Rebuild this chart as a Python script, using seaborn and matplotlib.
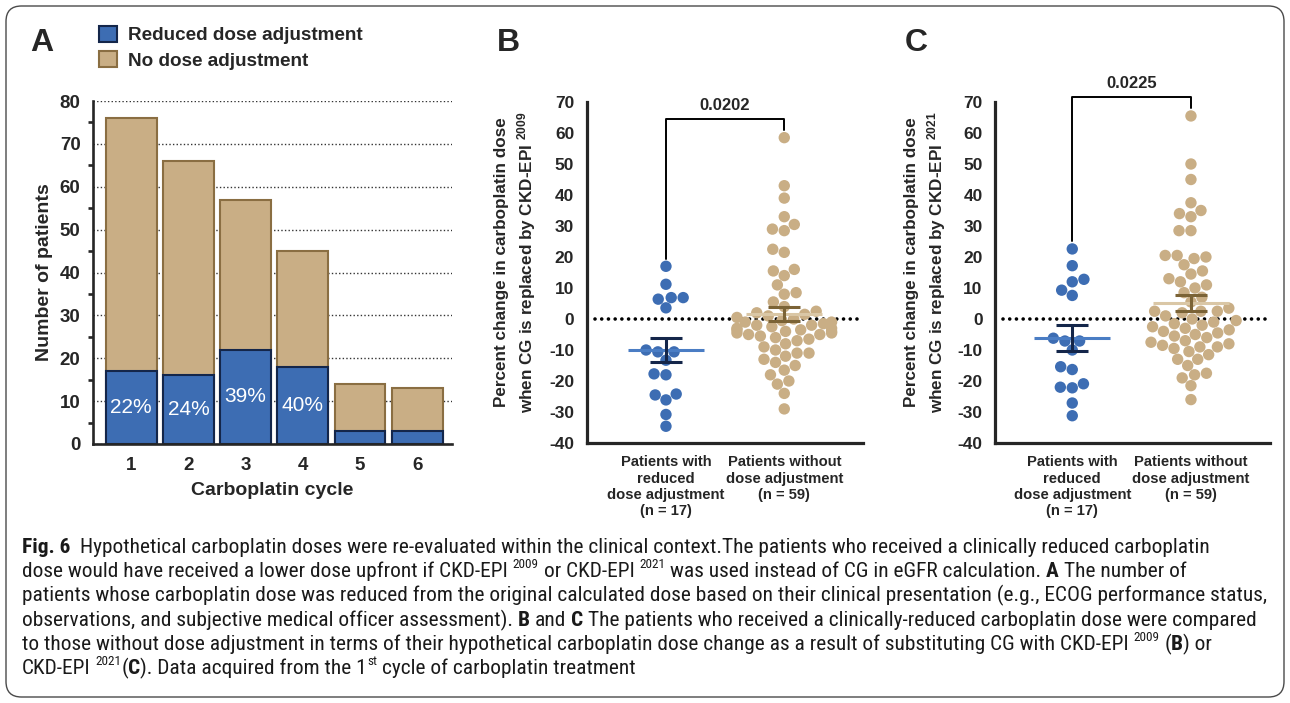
import numpy as np
import pandas as pd
import matplotlib
matplotlib.use("Agg")
import matplotlib.pyplot as plt
from matplotlib import font_manager
from matplotlib.patches import Patch, FancyBboxPatch
from matplotlib.ticker import MultipleLocator
import seaborn as sns

# ---------------- data ----------------
cycles = ["1", "2", "3", "4", "5", "6"]
total_patients = [76, 66, 57, 45, 14, 13]
reduced_patients = [17, 16, 22, 18, 3, 3]
pct_labels = ["22%", "24%", "39%", "40%", "", ""]
legend_labels = ["Reduced dose adjustment", "No dose adjustment"]

groups = ["Patients with\nreduced\ndose adjustment\n(n = 17)",
          "Patients without\ndose adjustment\n(n = 59)"]

b_reduced = [17.0, 11.2, 6.9, 6.9, 6.4, 3.6, -10.6, -10.0, -10.6, -13.3,
             -17.7, -18.0, -24.5, -24.2, -26.1, -30.8, -34.6]
b_no_adj = [58.5, 43, 39, 33, 30.5, 29, 28.5, 22.5, 21.5, 16, 15.5, 14, 11,
            8.5, 8, 5.5, 4, 2.5,
            2, 1.5, 1, 0.5, 0, -0.5, -1, -1, -1.5, -2, -2, -2.5, -3, -3,
            -3.5, -3.5, -4, -4, -4.5, -4.5, -5, -5, -5.5, -6, -6.5, -7, -8,
            -9, -10, -11, -11, -12, -13, -14, -15, -16.5, -18, -20, -21,
            -24, -29]
c_reduced = [22.6, 17.2, 12.8, 12.0, 7.6, 9.3, -7.1, -6.2, -7.1, -10.0,
             -15.4, -16.3, -22.0, -20.9, -22.2, -27.1, -31.2]
c_no_adj = [65.5, 50, 45, 37.5, 35, 34, 33, 28.5, 28.5, 20.5, 20.5, 20,
            19.5, 17.5, 15.5, 14.5, 13, 12, 11, 10, 8.5, 7, 5.5, 3.5, 2.5, 2,
            2.5, 2.5, 1, 0, -0.5, -1, -1.5, -2, -2.5, -3, -3.5, -4, -4.5,
            -5, -5.5, -6, -7, -7.5, -8, -8.5, -9, -9, -9.5, -10.5, -11.5,
            -13, -13, -15, -17.5, -18, -19, -21.5, -26]
p_values = ["0.0202", "0.0225"]
ylabel_years = ["2009", "2021"]

# caption: (text, style) with style n = normal, b = bold, s = superscript
caption_segments = [
    [("Fig. 6", "b"), ("  Hypothetical carboplatin doses were re-evaluated within the clinical context.The patients who received a clinically reduced carboplatin", "n")],
    [("dose would have received a lower dose upfront if CKD-EPI ", "n"), ("2009", "s"), (" or CKD-EPI ", "n"), ("2021", "s"),
     (" was used instead of CG in eGFR calculation. ", "n"), ("A", "b"), (" The number of", "n")],
    [("patients whose carboplatin dose was reduced from the original calculated dose based on their clinical presentation (e.g., ECOG performance status,", "n")],
    [("observations, and subjective medical officer assessment). ", "n"), ("B", "b"), (" and ", "n"), ("C", "b"),
     (" The patients who received a clinically-reduced carboplatin dose were compared", "n")],
    [("to those without dose adjustment in terms of their hypothetical carboplatin dose change as a result of substituting CG with CKD-EPI ", "n"),
     ("2009", "s"), (" (", "n"), ("B", "b"), (") or", "n")],
    [("CKD-EPI ", "n"), ("2021", "s"), ("(", "n"), ("C", "b"), ("). Data acquired from the 1", "n"), ("st", "s"),
     (" cycle of carboplatin treatment", "n")],
]

# ---------------- style ----------------
W, H = 1290, 703
BLUE = "#3d6db3"
BLUE_EDGE = "#14264a"
BLUE_MEAN = "#4a7dc4"
TAN = "#c9ae85"
TAN_EDGE = "#8a6e42"
TAN_MEAN = "#dac7a6"
TAN_SEM = "#7b6336"

sns.set_style("white")
names = {f.name for f in font_manager.fontManager.ttflist}
main_font = "Liberation Sans" if "Liberation Sans" in names else "DejaVu Sans"
narrow_font = next((n for n in ["Liberation Sans Narrow", "Roboto Condensed",
                                 "Open Sans Condensed", "DejaVu Sans"] if n in names),
                   "DejaVu Sans")
plt.rcParams.update({
    "font.family": [main_font, "DejaVu Sans"],
    "font.weight": "bold",
    "axes.unicode_minus": False,
    "mathtext.fontset": "custom",
    "mathtext.rm": main_font,
    "mathtext.it": f"{main_font}:italic",
    "mathtext.bf": f"{main_font}:bold",
})

fig = plt.figure(figsize=(W / 100, H / 100), dpi=100)


def axes_px(l, t, r, b):
    return fig.add_axes([l / W, 1 - b / H, (r - l) / W, (b - t) / H])


# ---------------- Panel A ----------------
axA = axes_px(93, 101, 452, 444)
sns.barplot(x=cycles, y=total_patients, color=TAN, edgecolor=TAN_EDGE,
            linewidth=1.5, width=0.89, saturation=1, errorbar=None, ax=axA)
sns.barplot(x=cycles, y=reduced_patients, color=BLUE, edgecolor=BLUE_EDGE,
            linewidth=1.5, width=0.89, saturation=1, errorbar=None, ax=axA)
for i, (lab, r) in enumerate(zip(pct_labels, reduced_patients)):
    if lab:
        axA.text(i, r / 2, lab, ha="center", va="center", color="white",
                 fontsize=15, fontweight="normal", zorder=5)
axA.set_ylim(0, 80)
axA.set_xlim(-0.67, 5.61)
axA.yaxis.set_major_locator(MultipleLocator(10))
axA.yaxis.set_minor_locator(MultipleLocator(5))
axA.set_axisbelow(True)
axA.yaxis.grid(True, which="major", linestyle=(0, (1, 1.6)), color="#333333", lw=1.0)
axA.xaxis.grid(False)
for s in ["top", "right"]:
    axA.spines[s].set_visible(False)
for s in ["left", "bottom"]:
    axA.spines[s].set_linewidth(1.9)
axA.tick_params(axis="both", which="major", length=6, width=1.9, labelsize=13.5, pad=3)
axA.tick_params(axis="y", which="minor", length=3.5, width=1.9, left=True)
axA.set_xlabel("Carboplatin cycle", fontsize=14, fontweight="bold", labelpad=6)
axA.set_ylabel("Number of patients", fontsize=14, fontweight="bold")
axA.yaxis.set_label_coords(-0.112, 0.5)

handles = [Patch(facecolor=BLUE, edgecolor=BLUE_EDGE, linewidth=1.5, label=legend_labels[0]),
           Patch(facecolor=TAN, edgecolor=TAN_EDGE, linewidth=1.5, label=legend_labels[1])]
axA.legend(handles=handles, loc="upper left", bbox_to_anchor=(99 / W, 1 - 26 / H),
           bbox_transform=fig.transFigure, frameon=False,
           prop={"weight": "bold", "size": 13.6}, handlelength=0.95, handleheight=0.9,
           handletextpad=0.6, labelspacing=0.36, borderpad=0, borderaxespad=0)


# ---------------- Panels B & C ----------------
def dot_panel(ax, reduced, no_adj, pval, year, xlim):
    df = pd.DataFrame({"group": [groups[0]] * len(reduced) + [groups[1]] * len(no_adj),
                       "value": reduced + no_adj})
    sns.swarmplot(data=df, x="group", y="value", hue="group", order=groups,
                  hue_order=groups, palette=[BLUE, TAN], size=8.2, linewidth=0,
                  legend=False, ax=ax, zorder=3)
    ax.axhline(0, xmin=0.03, xmax=1, color="black", lw=2.6,
               linestyle=(0, (0.01, 1.85)), dash_capstyle="round", zorder=2)
    mean_cols = [BLUE_MEAN, TAN_MEAN]
    sem_cols = [BLUE_EDGE, TAN_SEM]
    for i, vals in enumerate([reduced, no_adj]):
        v = np.asarray(vals, dtype=float)
        m = v.mean()
        se = v.std(ddof=1) / np.sqrt(len(v))
        ax.hlines(m, i - 0.32, i + 0.32, color=mean_cols[i], lw=2.2, zorder=5)
        ax.vlines(i, m - se, m + se, color=sem_cols[i], lw=2.2, zorder=6)
        ax.hlines([m - se, m + se], i - 0.135, i + 0.135, color=sem_cols[i], lw=2.2, zorder=6)
    top = max(max(reduced), max(no_adj)) + 6
    ax.plot([0, 0, 1, 1], [max(reduced) + 2.5, top, top, max(no_adj) + 2.5],
            color="black", lw=1.4, clip_on=False, zorder=4)
    ax.text(0.5, top + 2.9, pval, ha="center", va="baseline", fontsize=12,
            fontweight="bold", clip_on=False)
    ax.set_ylim(-40, 70)
    ax.set_xlim(*xlim)
    ax.yaxis.set_major_locator(MultipleLocator(10))
    for s in ["top", "right"]:
        ax.spines[s].set_visible(False)
    for s in ["left", "bottom"]:
        ax.spines[s].set_linewidth(2.3)
    ax.tick_params(axis="both", which="major", length=6, width=2.3, pad=3)
    ax.tick_params(axis="y", labelsize=12.5)
    ax.tick_params(axis="x", labelsize=10.6)
    ax.set_xlabel("")
    ax.set_ylabel("Percent change in carboplatin dose\n"
                  "when CG is replaced by CKD-EPI $^{\\mathrm{" + year + "}}$",
                  fontsize=12.3, fontweight="bold", linespacing=1.35)


axB = axes_px(586.7, 102, 863.3, 443)
dot_panel(axB, b_reduced, b_no_adj, p_values[0], ylabel_years[0], (-0.67, 1.668))
axB.yaxis.set_label_coords(-0.177, 0.53)

axC = axes_px(995, 102, 1270, 443)
dot_panel(axC, c_reduced, c_no_adj, p_values[1], ylabel_years[1], (-0.651, 1.666))
axC.yaxis.set_label_coords(-0.172, 0.53)

for letter, x in zip(["A", "B", "C"], [30, 497, 905]):
    fig.text(x / W, 1 - 51 / H, letter, fontsize=23, fontweight="bold",
             ha="left", va="baseline")

# ---------------- caption ----------------
renderer = fig.canvas.get_renderer()


def text_width(s, size, weight):
    if not s:
        return 0.0
    probe = fig.text(0, 0, "I" + s + "I", family=narrow_font, fontsize=size, fontweight=weight)
    ref = fig.text(0, 0, "II", family=narrow_font, fontsize=size, fontweight=weight)
    w = probe.get_window_extent(renderer).width - ref.get_window_extent(renderer).width
    probe.remove()
    ref.remove()
    return w


full_line = "".join(s for s, _ in caption_segments[2])
base_size = 12.0
size = base_size * (1266 - 22) / text_width(full_line, base_size, "normal")
sup_size = size * 0.62
space_w = text_width(" ", size, "normal")
baselines = [553, 577, 601, 626, 650, 674]
for segs, yb in zip(caption_segments, baselines):
    x = 22.0
    for s, style in segs:
        weight = "bold" if style == "b" else "normal"
        fs = sup_size if style == "s" else size
        lead = len(s) - len(s.lstrip(" "))
        trail = len(s) - len(s.rstrip(" "))
        core = s.strip(" ")
        x += lead * space_w
        y = yb - (size * 100 / 72 * 0.40 if style == "s" else 0)
        fig.text(x / W, 1 - y / H, core, family=narrow_font, fontsize=fs,
                 fontweight=weight, ha="left", va="baseline", color="#1a1a1a")
        x += text_width(core, fs, weight)
        x += trail * space_w

frame = FancyBboxPatch((6 / W, 6 / H), 1 - 12 / W, 1 - 12 / H,
                       boxstyle="round,pad=0,rounding_size=0.012",
                       mutation_aspect=W / H, transform=fig.transFigure,
                       fill=False, edgecolor="#4a4a4a", lw=1.0)
fig.patches.append(frame)

fig.savefig("out.png", dpi=100)
